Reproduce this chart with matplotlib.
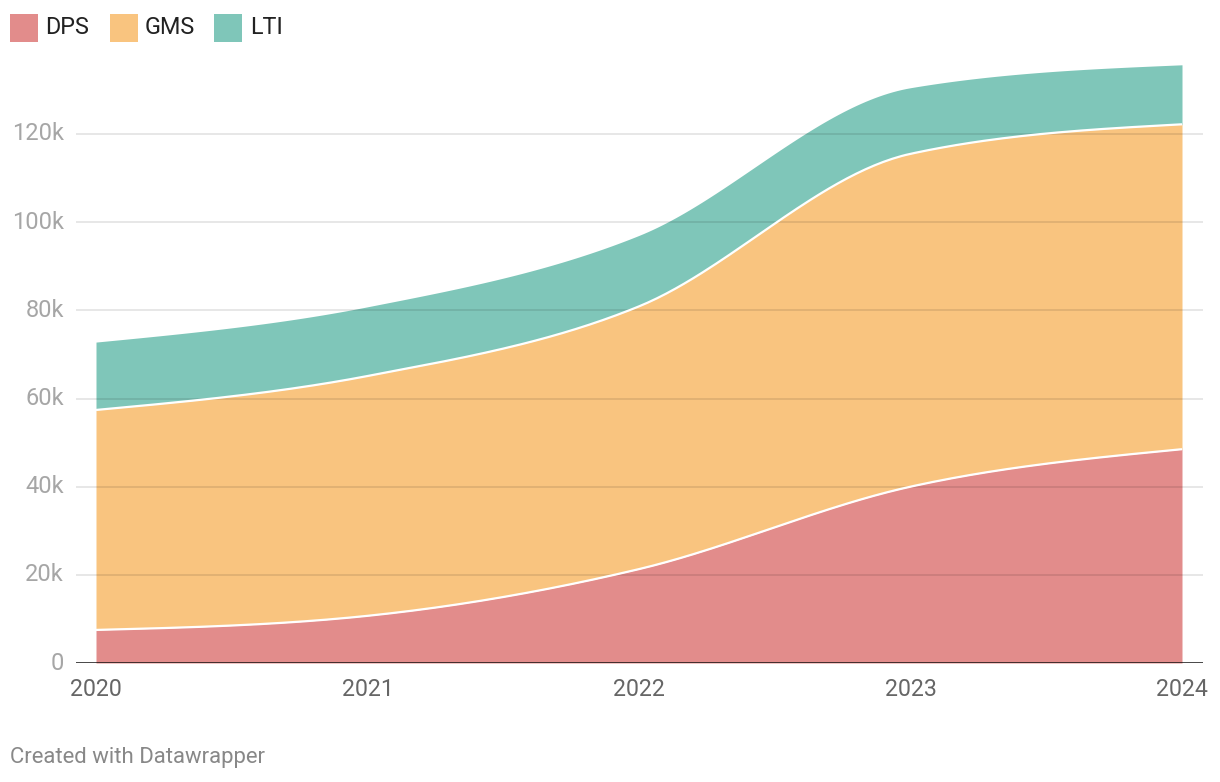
import numpy as np
import matplotlib
matplotlib.use("Agg")
import matplotlib.pyplot as plt
from matplotlib.patches import Rectangle

years = [2020, 2021, 2022, 2023, 2024]
series_names = ["DPS", "GMS", "LTI"]
dps = [7500, 10700, 21300, 40000, 48500]
gms = [49900, 54400, 59600, 75500, 73700]
lti = [15400, 15700, 16100, 15000, 13500]
colors = ["#E28C8B", "#F9C47F", "#7FC6B9"]
yticks = [0, 20000, 40000, 60000, 80000, 100000, 120000]
ytick_labels = ["0", "20k", "40k", "60k", "80k", "100k", "120k"]


def monotone_x(x, y, n=60):
    x = np.asarray(x, float)
    y = np.asarray(y, float)
    m = len(x)
    h = np.diff(x)
    s = np.diff(y) / h
    t = np.zeros(m)
    for i in range(1, m - 1):
        h0, h1 = h[i - 1], h[i]
        s0, s1 = s[i - 1], s[i]
        p = (s0 * h1 + s1 * h0) / (h0 + h1)
        t[i] = (np.sign(s0) + np.sign(s1)) * min(abs(s0), abs(s1), 0.5 * abs(p))
    t[0] = (3 * s[0] - t[1]) / 2
    t[-1] = (3 * s[-1] - t[-2]) / 2
    xs, ys = [], []
    for i in range(m - 1):
        u = np.linspace(0, 1, n, endpoint=(i == m - 2))
        hh = h[i]
        h00 = 2 * u**3 - 3 * u**2 + 1
        h10 = u**3 - 2 * u**2 + u
        h01 = -2 * u**3 + 3 * u**2
        h11 = u**3 - u**2
        xs.append(x[i] + u * hh)
        ys.append(h00 * y[i] + h10 * hh * t[i] + h01 * y[i + 1] + h11 * hh * t[i + 1])
    return np.concatenate(xs), np.concatenate(ys)


W, H = 1220, 782
fig = plt.figure(figsize=(W / 100, H / 100), dpi=100)
fig.patch.set_facecolor("white")

ax_left, ax_right = 76, 1203
ax_bottom, ax_top = 663, 46
ax = fig.add_axes([ax_left / W, 1 - ax_bottom / H, (ax_right - ax_left) / W, (ax_bottom - ax_top) / H])

px_per_year = (1182 - 96) / 4
x0 = 2020 - (96 - ax_left) / px_per_year
x1 = 2024 + (ax_right - 1182) / px_per_year
ax.set_xlim(x0, x1)
px_per_unit = (663 - 134) / 120000
ax.set_ylim(0, (663 - 46) / px_per_unit)

cum = np.zeros(len(years))
prev_curve = None
for vals, col in zip([dps, gms, lti], colors):
    top = cum + np.asarray(vals, float)
    xs, ytop = monotone_x(years, top)
    if prev_curve is None:
        ybot = np.zeros_like(ytop)
    else:
        ybot = prev_curve
    ax.fill_between(xs, ybot, ytop, color=col, linewidth=0, zorder=1)
    prev_curve = ytop
    cum = top

# white separating lines
cum = np.zeros(len(years))
for vals in [dps, gms]:
    cum = cum + np.asarray(vals, float)
    xs, yc = monotone_x(years, cum)
    ax.plot(xs, yc, color="white", lw=1.6, zorder=3, solid_capstyle="butt")

# gridlines
for yt in yticks[1:]:
    ax.axhline(yt, color="black", alpha=0.1, lw=1.3, zorder=2)
ax.axhline(0, color="#111111", lw=1.8, zorder=4)

for sp in ax.spines.values():
    sp.set_visible(False)
ax.set_xticks([])
ax.set_yticks([])

# y tick labels
for yt, lab in zip(yticks, ytick_labels):
    ax.text(x0 - 12 / px_per_year, yt, lab, ha="right", va="center",
            fontsize=17, color="#A6A6A6", family="Roboto")
# x tick labels
for yr in years:
    ax.text(yr, -27 / px_per_unit, str(yr), ha="center", va="center",
            fontsize=16.7, color="#666666", family="Roboto")

# legend
leg_items = [(10, 45), (110, 145), (214, 250)]
for (sx, tx), name, col in zip(leg_items, series_names, colors):
    fig.patches.append(Rectangle((sx / W, 1 - 42 / H), 28 / W, 28 / H,
                                 transform=fig.transFigure, color=col, lw=0))
    fig.text(tx / W, 1 - 27 / H, name, ha="left", va="center",
             fontsize=16.8, color="#222222", family="Roboto")

fig.text(10 / W, 1 - 757 / H, "Created with Datawrapper", ha="left", va="center",
         fontsize=15.9, color="#888888", family="Roboto")

fig.savefig("out.png", dpi=100, facecolor="white")
